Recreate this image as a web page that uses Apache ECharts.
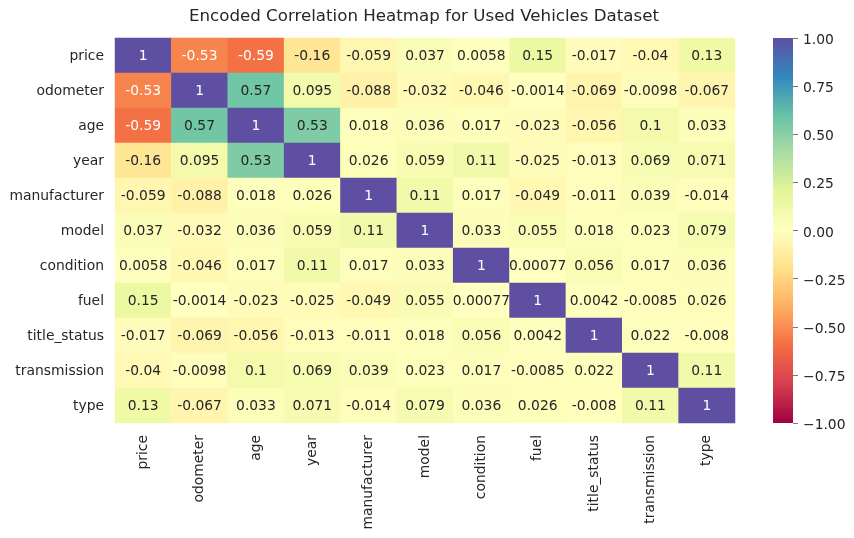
<!DOCTYPE html>
<html>
<head>
<meta charset="utf-8">
<style>html,body{margin:0;padding:0;background:#fff}#c{width:854px;height:538px}</style>
<script src="https://cdn.jsdelivr.net/npm/echarts@6/dist/echarts.min.js"></script>
</head>
<body>
<div id="c"></div>
<script>
const chartTitle = 'Encoded Correlation Heatmap for Used Vehicles Dataset';
const categories = ['price','odometer','age','year','manufacturer','model','condition','fuel','title_status','transmission','type'];
const price        = [1,-0.53,-0.59,-0.16,-0.059,0.037,0.0058,0.15,-0.017,-0.04,0.13];
const odometer     = [-0.53,1,0.57,0.095,-0.088,-0.032,-0.046,-0.0014,-0.069,-0.0098,-0.067];
const age          = [-0.59,0.57,1,0.53,0.018,0.036,0.017,-0.023,-0.056,0.1,0.033];
const year         = [-0.16,0.095,0.53,1,0.026,0.059,0.11,-0.025,-0.013,0.069,0.071];
const manufacturer = [-0.059,-0.088,0.018,0.026,1,0.11,0.017,-0.049,-0.011,0.039,-0.014];
const model        = [0.037,-0.032,0.036,0.059,0.11,1,0.033,0.055,0.018,0.023,0.079];
const condition    = [0.0058,-0.046,0.017,0.11,0.017,0.033,1,0.00077,0.056,0.017,0.036];
const fuel         = [0.15,-0.0014,-0.023,-0.025,-0.049,0.055,0.00077,1,0.0042,-0.0085,0.026];
const title_status = [-0.017,-0.069,-0.056,-0.013,-0.011,0.018,0.056,0.0042,1,0.022,-0.008];
const transmission = [-0.04,-0.0098,0.1,0.069,0.039,0.023,0.017,-0.0085,0.022,1,0.11];
const type         = [0.13,-0.067,0.033,0.071,-0.014,0.079,0.036,0.026,-0.008,0.11,1];
const rows = [price,odometer,age,year,manufacturer,model,condition,fuel,title_status,transmission,type];
const spectral = ['#9e0142','#d53e4f','#f46d43','#fdae61','#fee08b','#ffffbf','#e6f598','#abdda4','#66c2a5','#3288bd','#5e4fa2'];
const scaleMin = -1;
const scaleMax = 1;

const FONT = '"DejaVu Sans"';
const INK = '#262626';
const data = [];
rows.forEach((r, y) => r.forEach((v, x) => {
  data.push({ value: [x, y, v], label: { color: (v > 0.9 || v < -0.45) ? '#ffffff' : INK } });
}));

const chart = echarts.init(document.getElementById('c'), null, { renderer: 'canvas' });
chart.setOption({
  animation: false,
  backgroundColor: '#ffffff',
  title: {
    text: chartTitle, left: 424, top: 8, textAlign: 'center', padding: 0,
    textStyle: { fontFamily: FONT, fontSize: 16.67, fontWeight: 'normal', color: INK }
  },
  grid: [
    { left: 115, top: 38, width: 620, height: 385, containLabel: false, outerBoundsMode: 'none' },
    { left: 773, top: 38, width: 20, height: 385, containLabel: false, outerBoundsMode: 'none' }
  ],
  xAxis: [
    { type: 'category', gridIndex: 0, data: categories, axisLine: { show: false }, axisTick: { show: false }, splitLine: { show: false },
      axisLabel: { rotate: 90, margin: 12, interval: 0, fontFamily: FONT, fontSize: 13.89, color: INK } },
    { type: 'value', gridIndex: 1, min: 0, max: 1, show: false }
  ],
  yAxis: [
    { type: 'category', gridIndex: 0, data: categories, inverse: true, axisLine: { show: false }, axisTick: { show: false }, splitLine: { show: false },
      axisLabel: { margin: 11, interval: 0, formatter: v => '{a|' + v + '}',
        rich: { a: { fontFamily: FONT, fontSize: 13.89, color: INK, padding: [2, 0, 0, 0] } } } },
    { type: 'value', gridIndex: 1, position: 'right', min: scaleMin, max: scaleMax, interval: 0.25,
      axisLine: { show: false, onZero: false }, splitLine: { show: false },
      axisTick: { show: true, length: 5, lineStyle: { color: '#7a7a7a', width: 1 } },
      axisLabel: { margin: 10, formatter: v => '{a|' + v.toFixed(2).replace('-', '\u2212') + '}',
        rich: { a: { fontFamily: FONT, fontSize: 13.89, color: INK, padding: [5, 0, 0, 0] } } } }
  ],
  visualMap: {
    type: 'continuous', seriesIndex: 0, min: scaleMin, max: scaleMax, dimension: 2,
    show: false, inRange: { color: spectral }
  },
  series: [{
    type: 'heatmap', xAxisIndex: 0, yAxisIndex: 0, data,
    progressive: 0,
    itemStyle: { borderWidth: 0 },
    label: { show: true, fontFamily: FONT, fontSize: 13.89, offset: [0, 1], formatter: p => String(p.value[2]) },
    emphasis: { disabled: true }
  }, {
    type: 'custom', xAxisIndex: 1, yAxisIndex: 1, silent: true, clip: false,
    data: [[0, scaleMin, 1, scaleMax]],
    encode: { x: [0, 2], y: [1, 3] },
    renderItem: (params, api) => {
      const a = api.coord([api.value(0), api.value(1)]);
      const b = api.coord([api.value(2), api.value(3)]);
      const stops = spectral.map((c, i) => ({ offset: i / (spectral.length - 1), color: c }));
      return {
        type: 'rect',
        shape: { x: a[0], y: b[1], width: b[0] - a[0], height: a[1] - b[1] },
        style: { fill: new echarts.graphic.LinearGradient(0, 1, 0, 0, stops) }
      };
    }
  }]
});
</script>
</body>
</html>
